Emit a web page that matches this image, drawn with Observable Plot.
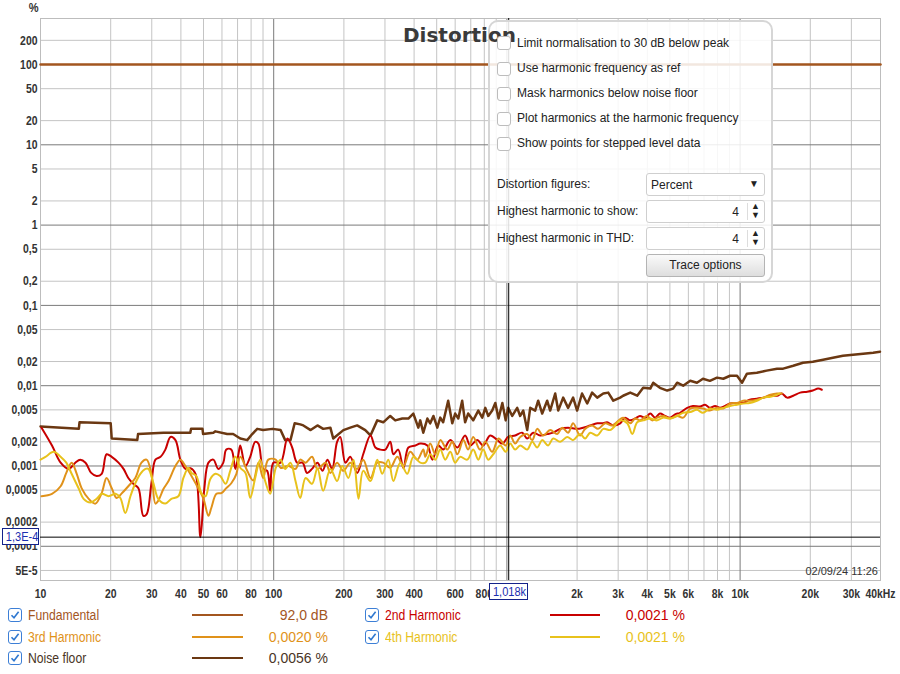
<!DOCTYPE html>
<html><head><meta charset="utf-8">
<script src="https://cdn.jsdelivr.net/npm/d3@7"></script>
<script src="https://cdn.jsdelivr.net/npm/@observablehq/plot@0.6"></script>
<style>
body{margin:0;background:#fff;}
#wrap{position:relative;width:900px;height:674px;overflow:hidden;font-family:"Liberation Sans",Arial,sans-serif;color:#222;}
#chart{position:absolute;left:0;top:0;}
.abs{position:absolute;white-space:nowrap;}
.cb{position:absolute;width:12px;height:12px;border:1px solid #bdbdbd;border-radius:3px;background:#fff;}
.opt{position:absolute;font-size:12px;line-height:14px;white-space:nowrap;color:#222;}
.field{position:absolute;left:646px;width:119px;border:1px solid #cfcfcf;border-radius:3px;background:#fff;box-sizing:border-box;}
.lcb{position:absolute;width:12px;height:12px;border:1px solid #3d7fd6;border-radius:3px;background:#fff;}
.leg{position:absolute;font-family:"Liberation Sans",Arial,sans-serif;font-size:14px;line-height:16px;white-space:nowrap;}
.narrowL{transform:scaleX(0.87);transform-origin:left center;}
.sw{position:absolute;height:2px;}
.cur{position:absolute;border:1px solid #14228a;background:#fff;color:#1b2fb0;font-family:"Liberation Sans",Arial,sans-serif;font-size:13px;line-height:15px;text-align:center;box-sizing:border-box;white-space:nowrap;overflow:hidden;}
.cur span{display:inline-block;transform:scaleX(0.85);transform-origin:center;}
</style></head>
<body><div id="wrap"><div id="chart"></div></div>
<script>
// ---------- data (frequency in Hz, level in %) ----------
const fundamental = [[10,100],[40000,100]];
const noiseFloor = [[10,0.0031],[14.6,0.0029],[14.7,0.0035],[20.0,0.0034],[20.2,0.0022],[26.0,0.0021],[26.2,0.0025],[33.7,0.0026],[43.9,0.0026],[44.2,0.0029],[49.5,0.0029],[49.8,0.0025],[55.1,0.0026],[56.2,0.0027],[63.2,0.0025],[67.0,0.0025],[71.9,0.0022],[77.0,0.0021],[80.9,0.0025],[85.0,0.0029],[90.1,0.0028],[98.8,0.0029],[107,0.0028],[112,0.0021],[118,0.0021],[123,0.0034],[130,0.0033],[134,0.0032],[144,0.0028],[154,0.0032],[163,0.0029],[175,0.0030],[180,0.0022],[199,0.0028],[213,0.0030],[228,0.0032],[247,0.0028],[260,0.0024],[278,0.0037],[295,0.0035],[316,0.0042],[332,0.0037],[356,0.0039],[378,0.0039],[397,0.0045],[417,0.0030],[425,0.0037],[438,0.0026],[456,0.0039],[469,0.0034],[484,0.0042],[503,0.0030],[518,0.0040],[533,0.0035],[560,0.0065],[583,0.0034],[600,0.0045],[619,0.0039],[643,0.0065],[662,0.0035],[682,0.0045],[717,0.0037],[754,0.0049],[784,0.0040],[808,0.0053],[832,0.0042],[865,0.0049],[892,0.0061],[921,0.0039],[956,0.0061],[988,0.0037],[1013,0.0053],[1054,0.0042],[1107,0.0053],[1140,0.0042],[1175,0.0049],[1222,0.0028],[1259,0.0053],[1322,0.0049],[1362,0.0065],[1417,0.0045],[1488,0.0065],[1533,0.0049],[1611,0.0080],[1660,0.0049],[1743,0.0071],[1830,0.0053],[1923,0.0071],[2000,0.0049],[2100,0.0080],[2210,0.0060],[2320,0.0082],[2440,0.0071],[2590,0.0080],[2720,0.0082],[2860,0.0065],[3060,0.0071],[3150,0.0075],[3380,0.0082],[3620,0.0075],[3840,0.0094],[4120,0.0092],[4240,0.0109],[4530,0.0094],[4870,0.0087],[5160,0.0092],[5370,0.0109],[5700,0.0100],[6110,0.0115],[6530,0.0109],[6930,0.0122],[7420,0.0115],[7960,0.0126],[8470,0.0122],[9060,0.0133],[9700,0.0133],[10200,0.0109],[10700,0.0141],[11800,0.0145],[13000,0.0154],[14400,0.0163],[15300,0.0163],[16900,0.0177],[18600,0.0193],[20500,0.0199],[22700,0.0211],[25000,0.0223],[27600,0.0236],[30500,0.0243],[33700,0.0250],[37200,0.0258],[39800,0.0265]];
const harmonic2 = [[10.1,0.0030],[11.2,0.0018],[12.2,0.0011],[13.2,0.00092],[14.1,0.0011],[14.8,0.0012],[15.6,0.0011],[16.5,0.00082],[17.4,0.00075],[18.3,0.00080],[19.2,0.0014],[20.2,0.0013],[21.6,0.0011],[22.7,0.00092],[23.8,0.00071],[25.0,0.00060],[26.3,0.00053],[27.6,0.00024],[28.5,0.00025],[29.9,0.00061],[31.1,0.0012],[32.7,0.0013],[34.3,0.0016],[36.1,0.0023],[37.9,0.0021],[39.8,0.0012],[41.8,0.00092],[43.9,0.00094],[46.2,0.00080],[48.5,0.00013],[50.4,0.00052],[52.5,0.0011],[55.1,0.0012],[57.9,0.00092],[60.8,0.0011],[62.6,0.0016],[65.8,0.0016],[68.5,0.00092],[70.6,0.0014],[71.9,0.0018],[75.7,0.0010],[79.3,0.0013],[83.3,0.0020],[86.0,0.0019],[90.1,0.00092],[93.8,0.00087],[96.6,0.00049],[99.7,0.0011],[107,0.0011],[114.5,0.0022],[120,0.0017],[126,0.0011],[133,0.0011],[139,0.00082],[146,0.00092],[154,0.0011],[162,0.00087],[170,0.0012],[178,0.00092],[187,0.0020],[193,0.0023],[203,0.0011],[213,0.0013],[228,0.00082],[242,0.0014],[260,0.0024],[273,0.0017],[286,0.0016],[301,0.0016],[316,0.0020],[326,0.0014],[342,0.0016],[360,0.00094],[378,0.0017],[405,0.0018],[425,0.0019],[456,0.0018],[479,0.0012],[508,0.0018],[533,0.0016],[572,0.0021],[613,0.0017],[662,0.0024],[696,0.0018],[746,0.0021],[791,0.0018],[848,0.0024],[910,0.0021],[956,0.0019],[1013,0.0023],[1085,0.0024],[1163,0.0026],[1222,0.0022],[1296,0.0026],[1389,0.0024],[1488,0.0025],[1579,0.0026],[1692,0.0029],[1830,0.0030],[2000,0.0029],[2124,0.0030],[2276,0.0032],[2440,0.0034],[2590,0.0034],[2690,0.0035],[2860,0.0032],[3060,0.0034],[3210,0.0040],[3380,0.0037],[3550,0.0039],[3720,0.0042],[3920,0.0040],[4120,0.0045],[4320,0.0040],[4530,0.0045],[4770,0.0042],[5010,0.0040],[5260,0.0044],[5530,0.0046],[5930,0.0053],[6280,0.0056],[6740,0.0055],[7070,0.0058],[7420,0.0053],[7810,0.0056],[8200,0.0053],[8620,0.0056],[9060,0.0060],[9700,0.0061],[10300,0.0061],[11000,0.0067],[11800,0.0069],[12600,0.0071],[13500,0.0075],[14400,0.0075],[15100,0.0080],[15900,0.0071],[16900,0.0075],[18100,0.0082],[19400,0.0084],[20500,0.0087],[21600,0.0092],[22400,0.0089]];
const harmonic3 = [[10.1,0.00042],[11.2,0.00045],[12.2,0.00056],[12.9,0.00082],[13.6,0.0011],[14.3,0.00080],[15.0,0.00053],[16.1,0.00039],[17.2,0.00034],[18.3,0.00046],[19.2,0.00071],[20.2,0.00053],[21.2,0.00040],[22.2,0.00045],[23.8,0.00056],[25.5,0.00071],[27.1,0.0011],[28.5,0.0012],[29.9,0.00080],[31.1,0.00034],[32.0,0.00037],[33.7,0.00052],[35.4,0.00065],[37.9,0.0010],[39.8,0.0012],[41.8,0.0010],[44.4,0.00075],[47.6,0.00052],[50.0,0.00039],[52.5,0.00024],[54.0,0.00030],[56.8,0.00045],[59.7,0.00046],[62.6,0.00053],[65.8,0.00061],[69.2,0.00080],[71.9,0.0013],[77.0,0.00087],[81.7,0.00066],[86.0,0.0011],[90.1,0.00071],[94.8,0.0012],[102,0.0012],[107,0.00095],[116,0.0010],[124,0.00092],[130,0.0012],[137,0.0011],[146,0.0013],[154,0.00092],[167,0.0011],[175,0.00082],[187,0.0011],[199,0.00087],[213,0.0011],[228,0.00092],[242,0.0012],[260,0.00071],[278,0.0011],[295,0.0011],[316,0.00095],[339,0.0013],[360,0.0010],[385,0.0015],[413,0.0012],[438,0.0016],[447,0.0013],[469,0.0019],[493,0.0014],[518,0.0021],[555,0.0016],[583,0.0020],[613,0.0014],[651,0.0021],[682,0.0016],[717,0.0023],[767,0.0016],[808,0.0020],[865,0.0015],[921,0.0022],[988,0.0018],[1033,0.0024],[1085,0.0019],[1140,0.0023],[1222,0.0025],[1284,0.0021],[1349,0.0029],[1431,0.0024],[1533,0.0028],[1643,0.0025],[1726,0.0030],[1830,0.0026],[1923,0.0034],[2060,0.0024],[2165,0.0029],[2320,0.0032],[2460,0.0029],[2640,0.0034],[2830,0.0032],[3150,0.0040],[3380,0.0034],[3550,0.0039],[3720,0.0037],[3990,0.0042],[4190,0.0037],[4410,0.0040],[4670,0.0042],[5010,0.0039],[5370,0.0042],[5700,0.0040],[6110,0.0052],[6530,0.0053],[6930,0.0052],[7420,0.0049],[7960,0.0053],[8470,0.0052],[9060,0.0060],[9700,0.0061],[10300,0.0065],[11000,0.0065],[11800,0.0067],[12600,0.0071],[13500,0.0077],[14400,0.0080],[15100,0.0080]];
const harmonic4 = [[10,0.0012],[10.5,0.0013],[11.4,0.0015],[12.2,0.0013],[12.9,0.0011],[13.6,0.00080],[14.6,0.00052],[15.3,0.00039],[16.4,0.00035],[17.4,0.00039],[18.3,0.00045],[19.6,0.00042],[21.0,0.00045],[22.0,0.00040],[23.1,0.00026],[24.3,0.00042],[25.5,0.00061],[26.8,0.00080],[28.2,0.00092],[29.0,0.00092],[30.5,0.00061],[32.0,0.00039],[34.3,0.00034],[36.4,0.00039],[39.0,0.00042],[41.0,0.00071],[43.1,0.00095],[44.4,0.00082],[46.6,0.00075],[49.0,0.00046],[51.0,0.00042],[53.5,0.00069],[56.3,0.00080],[59.0,0.00075],[62.2,0.00060],[65.1,0.00087],[68.5,0.0013],[71.9,0.00095],[75.7,0.00082],[79.3,0.00040],[83.3,0.00071],[87.5,0.0012],[91.9,0.00065],[96.6,0.00045],[102,0.00094],[107,0.0012],[112,0.00092],[118,0.0011],[124,0.00065],[130,0.00040],[137,0.00071],[146,0.00060],[154,0.00094],[163,0.00049],[175,0.00092],[187,0.00065],[197,0.0010],[209,0.00071],[220,0.0012],[231,0.00039],[242,0.00087],[260,0.00065],[278,0.0012],[292,0.00080],[310,0.0012],[326,0.00065],[349,0.0011],[374,0.00080],[397,0.0013],[425,0.0011],[447,0.0011],[469,0.0014],[493,0.0012],[518,0.0016],[544,0.0012],[572,0.0015],[600,0.0011],[630,0.0013],[676,0.0012],[717,0.0016],[754,0.0012],[791,0.0016],[832,0.0012],[874,0.0014],[936,0.0018],[988,0.0015],[1033,0.0019],[1085,0.0016],[1140,0.0018],[1222,0.0016],[1284,0.0020],[1349,0.0017],[1417,0.0021],[1503,0.0018],[1579,0.0022],[1692,0.0020],[1813,0.0023],[1923,0.0021],[2060,0.0025],[2165,0.0022],[2276,0.0026],[2440,0.0024],[2590,0.0029],[2770,0.0028],[2860,0.0030],[3060,0.0037],[3280,0.0034],[3450,0.0025],[3620,0.0035],[3840,0.0037],[4120,0.0039],[4410,0.0037],[4670,0.0040],[5010,0.0039],[5370,0.0042],[5700,0.0046],[6110,0.0047],[6530,0.0050],[6930,0.0046],[7420,0.0052],[7960,0.0050],[8470,0.0053],[9060,0.0056],[9700,0.0058],[10300,0.0060],[11000,0.0061],[11800,0.0065],[12600,0.0071],[13500,0.0073],[14400,0.0077],[14800,0.0080]];

const xTickValues = [10,20,30,40,50,60,80,100,200,300,400,600,800,2000,3000,4000,5000,6000,8000,10000,20000,30000,40000];
const xTickLabels = ["10","20","30","40","50","60","80","100","200","300","400","600","800","2k","3k","4k","5k","6k","8k","10k","20k","30k","40kHz"];
const yTickValues = [200,100,50,20,10,5,2,1,0.5,0.2,0.1,0.05,0.02,0.01,0.005,0.002,0.001,0.0005,0.0002,0.0001,0.00005];
const yTickLabels = ["200","100","50","20","10","5","2","1","0,5","0,2","0,1","0,05","0,02","0,01","0,005","0,002","0,001","0,0005","0,0002","0,0001","5E-5"];
const xGridMinor = [20,30,40,50,60,70,80,90,200,300,400,500,600,700,800,900,2000,3000,4000,5000,6000,7000,8000,9000,20000,30000];
const xGridMajor = [100,1000,10000];
const yGridMinor = [200,50,20,5,2,0.5,0.2,0.05,0.02,0.005,0.002,0.0005,0.0002,0.00005];
const yGridMajor = [100,10,1,0.1,0.01,0.001,0.0001];
const cursorFreq = 1018, cursorLevel = 0.00013;
const cursorFreqLabel = "1,018k", cursorLevelLabel = "1,3E-4";

const series = [
  {name:"Fundamental", data: fundamental, color:"#a3561f", value:"92,0 dB", width:2.5},
  {name:"2nd Harmonic", data: harmonic2, color:"#c80000", value:"0,0021 %", width:2},
  {name:"3rd Harmonic", data: harmonic3, color:"#e0921a", value:"0,0020 %", width:2},
  {name:"4th Harmonic", data: harmonic4, color:"#e8c21c", value:"0,0021 %", width:2},
  {name:"Noise floor", data: noiseFloor, color:"#6b3812", value:"0,0056 %", width:2.5}
];
const panelChecks = ["Limit normalisation to 30 dB below peak","Use harmonic frequency as ref","Mask harmonics below noise floor","Plot harmonics at the harmonic frequency","Show points for stepped level data"];

const yMin = 3.75e-5, yMax = 374;
const tickFont = {fontFamily:'"Liberation Sans",Arial,sans-serif', fontWeight:"bold", fontSize:13, fill:"#333"};

const lineMark = (s, curve) => Plot.line(s.data, {x: d=>d[0], y: d=>d[1], stroke: s.color, strokeWidth: s.width, curve});

const plot = Plot.plot({
  width: 900, height: 604,
  marginTop: 18, marginRight: 20, marginBottom: 24, marginLeft: 40,
  style: {background:"#fff", overflow:"visible"},
  x: {type:"log", domain:[10,40000], axis:null},
  y: {type:"log", domain:[yMin,yMax], axis:null},
  marks: [
    Plot.ruleX(xGridMinor, {stroke:"#c4c4c4", strokeWidth:1}),
    Plot.ruleY(yGridMinor, {stroke:"#c4c4c4", strokeWidth:1}),
    Plot.ruleX(xGridMajor, {stroke:"#7a7a7a", strokeWidth:1}),
    Plot.ruleY(yGridMajor, {stroke:"#7a7a7a", strokeWidth:1}),
    Plot.frame({stroke:"#bdbdbd"}),
    lineMark(series[4], "linear"),
    lineMark(series[0], "linear"),
    lineMark(series[1], "catmull-rom"),
    lineMark(series[2], "catmull-rom"),
    lineMark(series[3], "catmull-rom"),
    Plot.ruleX([cursorFreq], {stroke:"#000", strokeWidth:1}),
    Plot.ruleY([cursorLevel], {stroke:"#000", strokeWidth:1}),
    Plot.text(xTickValues, {x:d=>d, y:yMin, dy:13, text:(d,i)=>xTickLabels[i], className:"tickx", ...tickFont}),
    Plot.text(yTickValues, {x:10, y:d=>d, dx:-3, textAnchor:"end", text:(d,i)=>yTickLabels[i], className:"ticky", ...tickFont})
  ]
});
document.getElementById("chart").appendChild(plot);
// condensed look for the tick labels
plot.querySelectorAll(".tickx text, .ticky text").forEach(t=>{
  const L = t.getComputedTextLength();
  t.setAttribute("textLength", (L*0.8).toFixed(1));
  t.setAttribute("lengthAdjust", "spacingAndGlyphs");
});
const sx = plot.scale("x"), sy = plot.scale("y");
const wrap = document.getElementById("wrap");
function add(html){ wrap.insertAdjacentHTML("beforeend", html); }

// axis unit, date
add(`<div class="abs" style="left:28px;top:0px;font:bold 13px 'Liberation Sans',Arial,sans-serif;color:#333;transform:scaleX(0.85);">%</div>`);
add(`<div class="abs" style="right:22px;top:565px;font-size:11px;color:#333;">02/09/24 11:26</div>`);
// cursor labels
const cx = sx.apply(cursorFreq), cy = sy.apply(cursorLevel);
add(`<div class="cur" style="left:${cx-19}px;top:583px;width:39px;height:17px;"><span>${cursorFreqLabel}</span></div>`);
add(`<div class="cur" style="left:2px;top:${cy-8.5}px;width:37px;height:17px;"><span>${cursorLevelLabel}</span></div>`);

// control panel
add(`<div class="abs" style="left:488px;top:20px;width:285px;height:263px;border:2px solid #d6d6d6;border-radius:10px;background:rgba(255,255,255,0.86);box-sizing:border-box;"></div>`);
add(`<div class="abs" style="left:403px;top:23px;font:bold 20px 'DejaVu Sans',sans-serif;color:#3a3a3a;line-height:24px;">Distortion</div>`);
const rowY = [43,68.5,93.5,118.5,143.5];
panelChecks.forEach((t,i)=>{
  add(`<div class="cb" style="left:497px;top:${rowY[i]-7}px;"></div>`);
  add(`<div class="opt" style="left:517px;top:${rowY[i]-7.5}px;">${t}</div>`);
});
add(`<div class="opt" style="left:497px;top:177px;">Distortion figures:</div>`);
add(`<div class="field" style="top:173px;height:23px;"><span class="opt" style="left:4px;top:4px;">Percent</span><span class="abs" style="right:5px;top:4px;font-size:10px;color:#222;">&#9660;</span></div>`);
add(`<div class="opt" style="left:497px;top:204px;">Highest harmonic to show:</div>`);
add(`<div class="field" style="top:200px;height:23px;"><span class="opt" style="right:25px;top:4px;">4</span><span class="abs" style="left:100px;top:2px;width:1px;height:17px;background:#ddd;"></span><span class="abs" style="right:4px;top:1px;font-size:9px;line-height:9px;color:#222;">&#9650;<br>&#9660;</span></div>`);
add(`<div class="opt" style="left:497px;top:231px;">Highest harmonic in THD:</div>`);
add(`<div class="field" style="top:227px;height:23px;"><span class="opt" style="right:25px;top:4px;">4</span><span class="abs" style="left:100px;top:2px;width:1px;height:17px;background:#ddd;"></span><span class="abs" style="right:4px;top:1px;font-size:9px;line-height:9px;color:#222;">&#9650;<br>&#9660;</span></div>`);
add(`<div class="field" style="top:254px;height:23px;border-color:#b4b4b4;background:linear-gradient(#fafafa,#dedede);text-align:center;font-size:12px;line-height:21px;color:#222;">Trace options</div>`);

// legend
const check = `<svg width="12" height="12" viewBox="0 0 12 12" style="position:absolute;left:0;top:0"><path d="M2.5 6.2 L5 8.8 L9.6 2.8" fill="none" stroke="#2f78d0" stroke-width="1.6"/></svg>`;
const legPos = [
  {s:series[0], col:0, row:0},{s:series[1], col:1, row:0},
  {s:series[2], col:0, row:1},{s:series[3], col:1, row:1},
  {s:series[4], col:0, row:2}
];
const cols = [{cb:8, lab:28, sw0:192, sw1:243, valR:328},{cb:365, lab:385, sw0:550, sw1:600, valR:685}];
const rows = [615,637,658];
legPos.forEach(p=>{
  const c = cols[p.col], y = rows[p.row];
  const txtCol = p.s.name==="Noise floor" ? "#4a3526" : p.s.color;
  add(`<div class="lcb" style="left:${c.cb}px;top:${y-7}px;">${check}</div>`);
  add(`<div class="leg narrowL" style="left:${c.lab}px;top:${y-8}px;color:${txtCol};">${p.s.name}</div>`);
  add(`<div class="sw" style="left:${c.sw0}px;width:${c.sw1-c.sw0}px;top:${y-1}px;background:${p.s.color};"></div>`);
  add(`<div class="leg" style="right:${900-c.valR}px;top:${y-8}px;color:${txtCol};">${p.s.value}</div>`);
});
</script></body></html>
